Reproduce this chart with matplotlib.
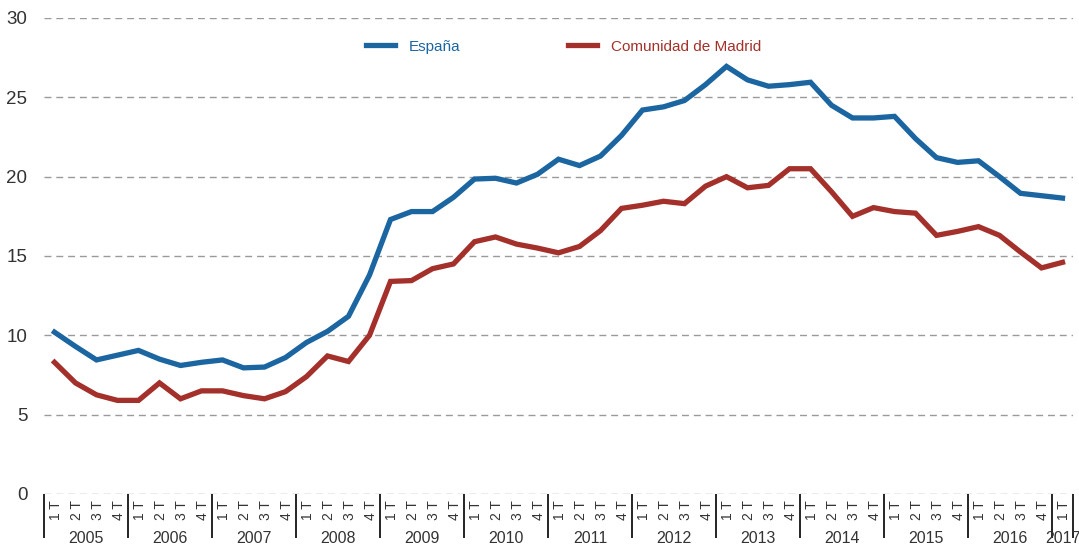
import numpy as np
import matplotlib
matplotlib.use("Agg")
import matplotlib.pyplot as plt
import matplotlib.transforms as mtransforms

plt.rcParams['font.family'] = ['Liberation Sans', 'DejaVu Sans']

years = list(range(2005, 2018))
quarters = ["1 T", "2 T", "3 T", "4 T"]

espana = [10.2, 9.3, 8.45, 8.75, 9.05, 8.5, 8.1, 8.3, 8.45, 7.95, 8.0, 8.6,
          9.55, 10.25, 11.2, 13.8, 17.3, 17.8, 17.8, 18.7, 19.85, 19.9, 19.6, 20.15,
          21.1, 20.7, 21.3, 22.6, 24.2, 24.4, 24.8, 25.8, 26.95, 26.1, 25.7, 25.8,
          25.95, 24.5, 23.7, 23.7, 23.8, 22.4, 21.2, 20.9, 21.0, 20.0, 18.95, 18.8,
          18.65]
madrid = [8.3, 7.0, 6.25, 5.9, 5.9, 7.0, 6.0, 6.5, 6.5, 6.2, 6.0, 6.45,
          7.4, 8.7, 8.35, 10.0, 13.4, 13.45, 14.2, 14.5, 15.9, 16.2, 15.75, 15.5,
          15.2, 15.6, 16.6, 18.0, 18.2, 18.45, 18.3, 19.4, 20.0, 19.3, 19.45, 20.5,
          20.5, 19.05, 17.5, 18.05, 17.8, 17.7, 16.3, 16.55, 16.85, 16.3, 15.25, 14.25,
          14.6]

labels = [q for y in years for q in quarters][:len(espana)]
x = np.arange(len(espana))

blue = "#1b65a1"
red = "#a3302a"
txt = "#333333"

fig = plt.figure(figsize=(10.79, 5.49), dpi=100)
ax = fig.add_axes([44 / 1079, 55 / 549, 1029 / 1079, 476 / 549])

ax.plot(x, espana, color=blue, lw=3.8, label="España", solid_joinstyle="miter")
ax.plot(x, madrid, color=red, lw=3.8, label="Comunidad de Madrid", solid_joinstyle="miter")

ax.set_xlim(-0.5, len(x) - 0.5)
ax.set_ylim(0, 30)
ax.set_yticks(range(0, 31, 5))
ax.yaxis.grid(True, color="#9a9a9a", linestyle=(0, (5, 3.5)), linewidth=1.0)
ax.set_axisbelow(True)
for s in ax.spines.values():
    s.set_visible(False)

ax.tick_params(axis="y", length=0, pad=12, labelsize=13.5, labelcolor=txt)

# quarter labels, anchored at their top end so they all line up
ax.set_xticks([])
trans = mtransforms.blended_transform_factory(ax.transData, ax.transAxes)
for i, lab in enumerate(labels):
    ax.text(i + 0.05, -0.013, lab, transform=trans, rotation=90, rotation_mode="anchor",
            ha="right", va="center", fontsize=10, color=txt)

# year separators
bounds = [-0.5 + 4 * k for k in range(len(years))] + [len(x) - 0.5]
ax.set_xticks(bounds, minor=True)
ax.set_xticklabels([], minor=True)
ax.tick_params(axis="x", which="minor", length=32, width=1.2, color="black", direction="out")

for k, yr in enumerate(years):
    first = 4 * k
    last = min(4 * k + 3, len(x) - 1)
    ax.text((first + last) / 2, -0.094, str(yr), transform=trans, ha="center",
            va="center", fontsize=11.5, color=txt)

leg = ax.legend(loc="center", bbox_to_anchor=(0.505, 0.94), ncol=2, frameon=False,
                handlelength=1.9, columnspacing=7.0, handletextpad=0.9,
                fontsize=11, labelcolor="linecolor")

fig.savefig("out.png", dpi=100)
